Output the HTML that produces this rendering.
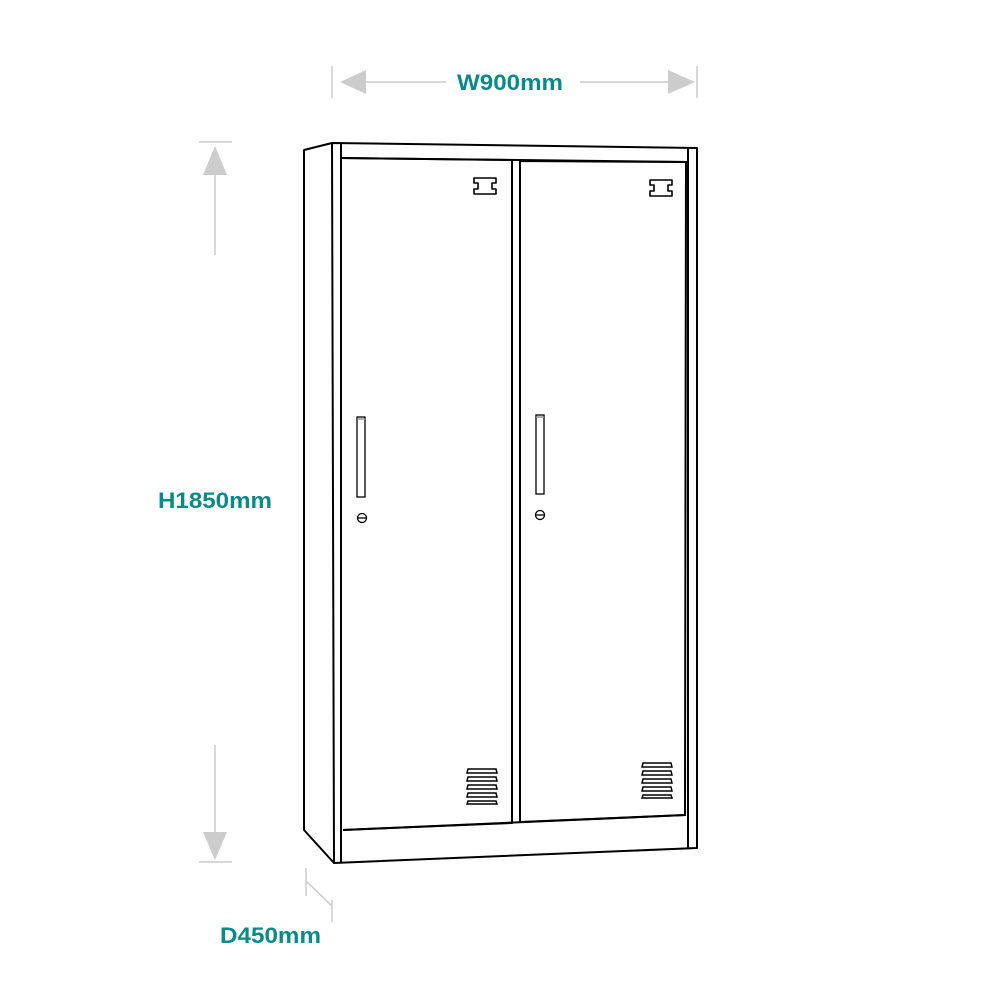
<!DOCTYPE html>
<html><head><meta charset="utf-8"><style>html,body{margin:0;padding:0;background:#fff}svg{display:block}</style></head>
<body>
<svg width="1000" height="1000" viewBox="0 0 1000 1000" xmlns="http://www.w3.org/2000/svg">
<g stroke="#ccc" stroke-width="1.5" fill="#ccc">
 <line x1="332" y1="66" x2="332" y2="98"/><line x1="697" y1="66" x2="697" y2="98"/>
 <line x1="366" y1="82" x2="446" y2="82"/><polygon points="340,82 366,70 366,94" stroke="none"/>
 <line x1="580" y1="82" x2="668" y2="82"/><polygon points="695,82 668,70 668,94" stroke="none"/>
 <line x1="199" y1="142" x2="232" y2="142"/><line x1="215" y1="175" x2="215" y2="255"/>
 <polygon points="215,146 203,175 227,175" stroke="none"/>
 <line x1="199" y1="862" x2="232" y2="862"/><line x1="215" y1="745" x2="215" y2="832"/>
 <polygon points="215,860 203,832 227,832" stroke="none"/>
 <line x1="306" y1="868" x2="306" y2="896"/><line x1="306" y1="881" x2="332" y2="906"/><line x1="332" y1="900" x2="332" y2="922"/>
</g>
<g fill="#0a8a87" font-family="Liberation Sans, sans-serif" font-weight="bold" font-size="22">
 <text x="457" y="90" textLength="106" lengthAdjust="spacingAndGlyphs">W900mm</text>
 <text x="158" y="508" textLength="114" lengthAdjust="spacingAndGlyphs">H1850mm</text>
 <text x="220" y="943" textLength="101" lengthAdjust="spacingAndGlyphs">D450mm</text>
</g>
<g fill="none" stroke="#000" stroke-width="2" stroke-linejoin="round">
 <path d="M332,143 L304,150 L304,830 L334,863"/>
 <path d="M332,143 L697,148 L697,848 L334,863 Z"/>
 <line x1="341" y1="143" x2="341" y2="863"/>
 <line x1="688" y1="148" x2="688" y2="848"/>
 <line x1="341" y1="158" x2="688" y2="162"/>
 <path d="M341,158 L512,160 L512,823 L343,830"/>
 <path d="M520,161 L686,162 L685,815 L520,822 Z"/>
 <line x1="343" y1="830" x2="686" y2="815"/>
 <path d="M474,178 h22 v5 h-4 v6 h4 v5 h-22 v-5 h4 v-6 h-4 z" stroke-width="1.6"/>
 <path d="M650,180 h22 v5 h-4 v6 h4 v5 h-22 v-5 h4 v-6 h-4 z" stroke-width="1.6"/>
</g>
<g fill="#fff" stroke="#000" stroke-width="1.3">
 <rect x="357" y="417" width="8" height="80"/><line x1="357" y1="419" x2="365" y2="419" stroke="#888"/>
 <rect x="536" y="415" width="8" height="79"/><line x1="536" y1="417" x2="544" y2="417" stroke="#888"/>
 <circle cx="362" cy="518" r="4.5"/><line x1="358" y1="518" x2="366" y2="518"/>
 <circle cx="540" cy="515" r="4.5"/><line x1="536" y1="515" x2="544" y2="515"/>
</g>
<g fill="#fff" stroke="#000" stroke-width="1.5">
 <path d="M468,769 h28 l1,4 h-30 z"/><path d="M468,777 h28 l1,4 h-30 z"/><path d="M468,785 h28 l1,4 h-30 z"/><path d="M468,793 h28 l1,4 h-30 z"/><path d="M468,801 h28 l1,3 h-30 z"/>
 <path d="M643,763 h28 l1,4 h-30 z"/><path d="M643,771 h28 l1,4 h-30 z"/><path d="M643,779 h28 l1,4 h-30 z"/><path d="M643,787 h28 l1,4 h-30 z"/><path d="M643,795 h28 l1,3 h-30 z"/>
</g>
</svg>
</body></html>
